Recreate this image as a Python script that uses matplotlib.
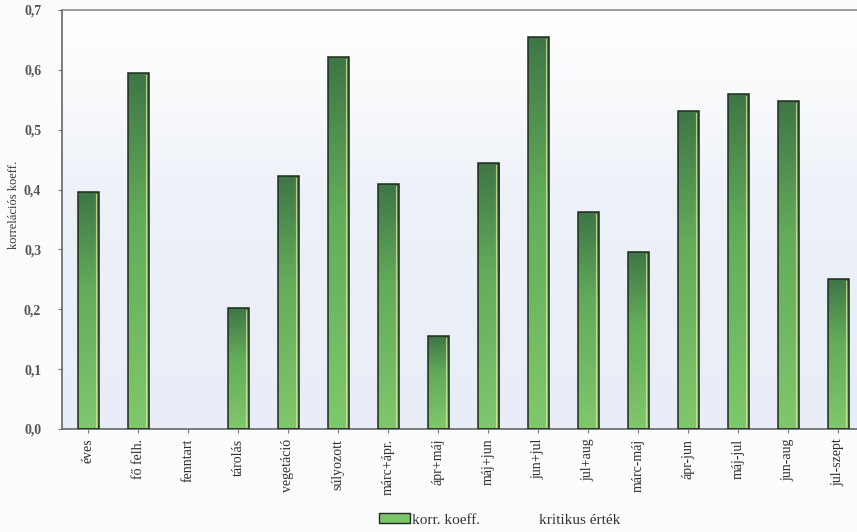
import numpy as np
import matplotlib
matplotlib.use("Agg")
import matplotlib.pyplot as plt
from matplotlib.patches import Patch
from matplotlib.lines import Line2D
from matplotlib.colors import LinearSegmentedColormap

categories = ["éves", "fő felh.", "fenntart", "tárolás", "vegetáció", "súlyozott",
              "márc+ápr.", "ápr+máj", "máj+jun", "jun+jul", "jul+aug", "márc-máj",
              "ápr-jun", "máj-jul", "jun-aug", "jul-szept"]
korr_koeff = [0.396, 0.595, 0.0, 0.202, 0.423, 0.621, 0.409, 0.155, 0.444,
              0.655, 0.362, 0.296, 0.531, 0.560, 0.548, 0.250]
y_ticks = [0.0, 0.1, 0.2, 0.3, 0.4, 0.5, 0.6, 0.7]
y_tick_labels = ["0,0", "0,1", "0,2", "0,3", "0,4", "0,5", "0,6", "0,7"]

plt.rcParams["font.family"] = ["Liberation Serif", "DejaVu Serif"]

W, H = 857, 532
fig = plt.figure(figsize=(W / 100, H / 100), dpi=100)
fig.patch.set_facecolor("#fbfcfd")

left, right, top, bottom = 62, 857, 10, 429
ax = fig.add_axes([left / W, (H - bottom) / H, (right - left) / W, (bottom - top) / H])

x = np.arange(len(categories))
ax.set_xlim(-0.52, 15.38)
ax.set_ylim(0, 0.7)

# soft background wash: white at the top, pale blue lower down
bg = np.linspace(0, 1, 256).reshape(-1, 1)
bg_cmap = LinearSegmentedColormap.from_list(
    "wash", [(0, "#e8edf7"), (0.55, "#edf1f8"), (0.8, "#f9fafc"), (1, "#ffffff")])
ax.imshow(bg, cmap=bg_cmap, aspect="auto", origin="lower",
          extent=[-0.52, 15.38, 0, 0.7], zorder=0)

bar_cmap = LinearSegmentedColormap.from_list(
    "bar", [(0, "#7fc86c"), (0.6, "#62ab5a"), (1, "#3e7646")])
bar_edges = ["#1f2a1f" if v > 0 else "none" for v in korr_koeff]
bars = ax.bar(x, korr_koeff, width=0.42, color="none", edgecolor=bar_edges,
              linewidth=1.1, zorder=3)
grad = np.linspace(0, 1, 256).reshape(-1, 1)
for b in bars:
    h = b.get_height()
    if h <= 0:
        continue
    x0 = b.get_x()
    im = ax.imshow(grad, cmap=bar_cmap, aspect="auto", origin="lower",
                   extent=[x0, x0 + b.get_width(), 0, h], zorder=2)
    im.set_clip_path(b)
    # thin light highlight along the right edge
    ax.plot([x0 + b.get_width() * 0.9] * 2, [0.002, h - 0.003],
            color="#e8f0a8", lw=0.8, alpha=0.7, zorder=2.5)

ax.set_yticks(y_ticks)
ax.set_yticklabels(y_tick_labels, fontsize=10, fontweight="bold", color="#555555")
ax.set_xticks(x)
ax.set_xticklabels(categories, rotation=90, fontsize=10, color="#2e2e2e")
ax.tick_params(axis="y", length=3, width=0.8, color="#777777", pad=12)
ax.tick_params(axis="x", length=3, width=0.8, color="#777777", pad=4)

for s in ["left", "bottom", "top"]:
    ax.spines[s].set_color("#666666")
    ax.spines[s].set_linewidth(1.2)
ax.spines["top"].set_color("#888888")
ax.spines["right"].set_visible(False)

fig.text(8 / W, 1 - 205 / H, "korrelációs koeff.", rotation=90, ha="left",
         va="center", fontsize=9, color="#333333")

handles = [Patch(facecolor="#7cc46a", edgecolor="#1f2a1f", linewidth=1.0),
           Line2D([], [], color="none")]
fig.legend(handles, ["korr. koeff.", "kritikus érték"], loc="center",
           bbox_to_anchor=(500 / W, 1 - 520 / H), ncol=2, frameon=False,
           fontsize=11, handlelength=2.0, handleheight=0.6, handletextpad=0.1,
           columnspacing=1.8, labelcolor="#333333")

fig.savefig("out.png", dpi=100, facecolor=fig.get_facecolor())
